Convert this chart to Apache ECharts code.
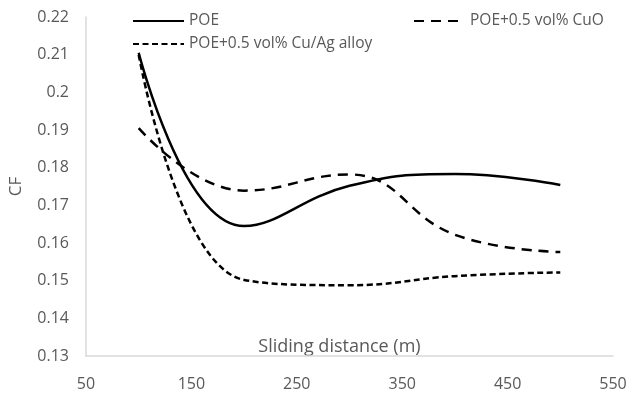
<!DOCTYPE html>
<html>
<head>
<meta charset="utf-8">
<script src="https://cdn.jsdelivr.net/npm/echarts@6/dist/echarts.min.js"></script>
<style>
  html, body { margin: 0; padding: 0; background: #fff; }
  #chart { width: 628px; height: 398px; }
</style>
</head>
<body>
<div id="chart"></div>
<script>
// sliding distance (m)
const distances = [100, 200, 300, 400, 500];
// coefficient of friction per sample
const poe = [0.2105, 0.1645, 0.1752, 0.1783, 0.1754];
const poeCuO = [0.1905, 0.1739, 0.1782, 0.1622, 0.1576];
const poeCuAg = [0.2100, 0.1502, 0.1488, 0.1512, 0.1522];
const seriesNames = ['POE', 'POE+0.5 vol% CuO', 'POE+0.5 vol% Cu/Ag alloy'];

const textColor = '#595959';
const axisLineColor = '#d9d9d9';
const fontFamily = '"Open Sans", "Noto Sans", sans-serif';

const toPairs = (ys) => distances.map((x, i) => [x, ys[i]]);

const legendBase = {
  padding: 0,
  itemWidth: 51,
  itemHeight: 14,
  itemGap: 10,
  itemStyle: { opacity: 0 },
  textStyle: { color: textColor, fontSize: 15.5, fontFamily: fontFamily },
};

const chart = echarts.init(document.getElementById('chart'), null, { renderer: 'canvas' });

chart.setOption({
  backgroundColor: '#fff',
  animation: false,
  textStyle: { fontFamily: fontFamily },
  legend: [
    Object.assign({ data: [seriesNames[0]], left: 132, top: 13 }, legendBase),
    Object.assign({ data: [seriesNames[1]], left: 413, top: 13 }, legendBase),
    Object.assign({ data: [seriesNames[2]], left: 132, top: 36 }, legendBase),
  ],
  grid: { left: 86, right: 15, top: 17, bottom: 42, outerBoundsMode: 'none' },
  xAxis: {
    type: 'value',
    min: 50,
    max: 550,
    interval: 100,
    name: 'Sliding distance (m)',
    nameLocation: 'middle',
    nameGap: -18,
    nameMoveOverlap: false,
    nameTextStyle: { color: textColor, fontSize: 18, padding: [0, 20, 0, 0] },
    axisLine: { show: true, lineStyle: { color: axisLineColor, width: 1.5 } },
    axisTick: { show: false },
    splitLine: { show: false },
    axisLabel: { color: textColor, fontSize: 16, margin: 20 },
  },
  yAxis: {
    type: 'value',
    min: 0.13,
    max: 0.22,
    interval: 0.01,
    name: 'CF',
    nameLocation: 'middle',
    nameGap: 61,
    nameTextStyle: { color: textColor, fontSize: 17 },
    axisLine: { show: true, lineStyle: { color: axisLineColor, width: 1.5 } },
    axisTick: { show: false },
    splitLine: { show: false },
    axisLabel: { color: textColor, fontSize: 16, margin: 17 },
  },
  series: [
    {
      name: seriesNames[0],
      type: 'line',
      data: toPairs(poe),
      smooth: 0.45,
      symbol: 'none',
      lineStyle: { color: '#000', width: 2.5, type: 'solid' },
      itemStyle: { color: '#000' },
    },
    {
      name: seriesNames[1],
      type: 'line',
      data: toPairs(poeCuO),
      smooth: 0.45,
      symbol: 'none',
      lineStyle: { color: '#000', width: 2.5, type: [10, 7] },
      itemStyle: { color: '#000' },
    },
    {
      name: seriesNames[2],
      type: 'line',
      data: toPairs(poeCuAg),
      smooth: 0.45,
      symbol: 'none',
      lineStyle: { color: '#000', width: 2.5, type: [6, 3.5] },
      itemStyle: { color: '#000' },
    },
  ],
});
</script>
</body>
</html>
